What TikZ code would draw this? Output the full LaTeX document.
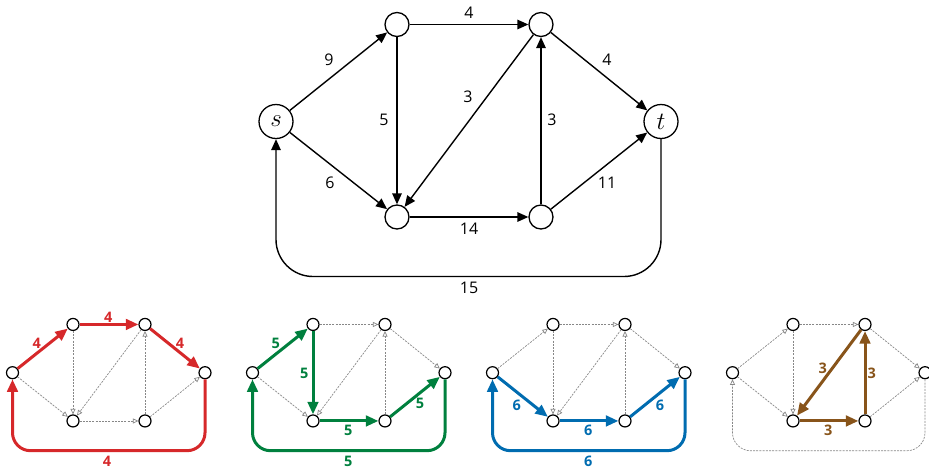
\documentclass[tikz,border=0pt]{standalone}
\usepackage{fontspec}
\setsansfont{Open Sans}
\usetikzlibrary{arrows.meta,calc}
\definecolor{fred}{RGB}{214,40,42}
\definecolor{fgreen}{RGB}{0,128,62}
\definecolor{fblue}{RGB}{0,108,176}
\definecolor{fbrown}{RGB}{136,84,26}
\definecolor{fgray}{RGB}{135,135,135}
\tikzset{
  bnode/.style={circle,draw,line width=1.3pt,minimum size=24pt,inner sep=0pt},
  stnode/.style={circle,draw,line width=1.3pt,minimum size=34pt,inner sep=0pt,font=\fontsize{24}{24}\selectfont},
  snd/.style={circle,draw,line width=1.2pt,minimum size=12pt,inner sep=0pt},
  edge/.style={line width=1.4pt,-{Triangle[length=11pt,width=9.5pt]}},
  lab/.style={font=\sffamily\fontsize{16}{16}\selectfont,inner sep=0pt},
  slab/.style={font=\sffamily\bfseries\fontsize{14.5}{14.5}\selectfont,inner sep=0pt},
  gedge/.style={draw=fgray,line width=0.7pt,dash pattern=on 2pt off 1.2pt,-{Triangle[open,length=5.5pt,width=5pt]}},
  fedge/.style={line width=3pt,-{Triangle[length=12.5pt,width=10.5pt]}},
}
\newcommand\gnodes[1]{%
  \node[snd] (#1s) at (0,0) {};
  \node[snd] (#1A) at (121,-96.5) {};
  \node[snd] (#1B) at (265,-96.5) {};
  \node[snd] (#1C) at (121,96.5) {};
  \node[snd] (#1D) at (265,96.5) {};
  \node[snd] (#1t) at (385,0) {};
  \coordinate (#1bot) at (0,156);
}
\begin{document}
\begin{tikzpicture}[x=1pt,y=-1pt]
\useasboundingbox (0,0) rectangle (929,472);
% ---------- main graph ----------
\begin{scope}[shift={(276,121.5)}]
  \node[stnode] (s) at (0,0) {$s$};
  \node[bnode] (A) at (121,-97) {};
  \node[bnode] (B) at (265,-97) {};
  \node[bnode] (C) at (121,95.5) {};
  \node[bnode] (D) at (265,95.5) {};
  \node[stnode] (t) at (385,0) {$t$};
  \coordinate (bot) at (0,155);
  \draw[edge] (s) -- (A);
  \draw[edge] (s) -- (C);
  \draw[edge] (A) -- (B);
  \draw[edge] (A) -- (C);
  \draw[edge] (B) -- (C);
  \draw[edge] (D) -- (B);
  \draw[edge] (C) -- (D);
  \draw[edge] (B) -- (t);
  \draw[edge] (D) -- (t);
  \draw[edge,rounded corners=37pt] (t.south) -- (t |- bot) -- (s |- bot) -- (s.south);
  \node[lab] (l1) at (53,-61.5) {9};
  \node[lab] (l2) at (54,61.5) {6};
  \node[lab] (l3) at (108,-1.5) {5};
  \node[lab] (l4) at (193,-108.5) {4};
  \node[lab] (l5) at (192,-24.5) {3};
  \node[lab] (l6) at (276,-1.5) {3};
  \node[lab] (l7) at (331,-61.5) {4};
  \node[lab] (l8) at (331,61.5) {11};
  \node[lab] (l9) at (193,107.5) {14};
  \node[lab] (l10) at (193,166.5) {15};
\end{scope}
% ---------- graph 1 (red) ----------
\begin{scope}[shift={(12.5,372.7)},scale=0.5]
  \gnodes{a}
  \draw[gedge] (as) -- (aC);
  \draw[gedge] (aA) -- (aC);
  \draw[gedge] (aB) -- (aC);
  \draw[gedge] (aD) -- (aB);
  \draw[gedge] (aC) -- (aD);
  \draw[gedge] (aD) -- (at);
  \draw[fedge,fred] (as) -- (aA);
  \draw[fedge,fred] (aA) -- (aB);
  \draw[fedge,fred] (aB) -- (at);
  \draw[fedge,fred,rounded corners=18pt] (at.south) -- (at |- abot) -- (as |- abot) -- (as.south);
  \node[slab,fred] (a1) at (48.4,-58.8) {4};
  \node[slab,fred] (a2) at (191.6,-110.8) {4};
  \node[slab,fred] (a3) at (335,-58.8) {4};
  \node[slab,fred] (a4) at (189,178) {4};
\end{scope}
% ---------- graph 2 (green) ----------
\begin{scope}[shift={(252.5,372.7)},scale=0.5]
  \gnodes{b}
  \draw[gedge] (bs) -- (bC);
  \draw[gedge] (bA) -- (bB);
  \draw[gedge] (bB) -- (bC);
  \draw[gedge] (bD) -- (bB);
  \draw[gedge] (bB) -- (bt);
  \draw[fedge,fgreen] (bs) -- (bA);
  \draw[fedge,fgreen] (bA) -- (bC);
  \draw[fedge,fgreen] (bC) -- (bD);
  \draw[fedge,fgreen] (bD) -- (bt);
  \draw[fedge,fgreen,rounded corners=18pt] (bt.south) -- (bt |- bbot) -- (bs |- bbot) -- (bs.south);
  \node[slab,fgreen] (b1) at (46.4,-58.8) {5};
  \node[slab,fgreen] (b2) at (103.6,1.2) {5};
  \node[slab,fgreen] (b3) at (191.6,114.6) {5};
  \node[slab,fgreen] (b4) at (335,61.2) {5};
  \node[slab,fgreen] (b5) at (191.6,178) {5};
\end{scope}
% ---------- graph 3 (blue) ----------
\begin{scope}[shift={(492.5,372.7)},scale=0.5]
  \gnodes{c}
  \draw[gedge] (cs) -- (cA);
  \draw[gedge] (cA) -- (cB);
  \draw[gedge] (cA) -- (cC);
  \draw[gedge] (cB) -- (cC);
  \draw[gedge] (cD) -- (cB);
  \draw[gedge] (cB) -- (ct);
  \draw[fedge,fblue] (cs) -- (cC);
  \draw[fedge,fblue] (cC) -- (cD);
  \draw[fedge,fblue] (cD) -- (ct);
  \draw[fedge,fblue,rounded corners=18pt] (ct.south) -- (ct |- cbot) -- (cs |- cbot) -- (cs.south);
  \node[slab,fblue] (c1) at (48.4,64.6) {6};
  \node[slab,fblue] (c2) at (191.6,116) {6};
  \node[slab,fblue] (c3) at (335,64.6) {6};
  \node[slab,fblue] (c4) at (191.6,178) {6};
\end{scope}
% ---------- graph 4 (brown) ----------
\begin{scope}[shift={(732.5,372.7)},scale=0.5]
  \gnodes{d}
  \draw[gedge] (ds) -- (dA);
  \draw[gedge] (ds) -- (dC);
  \draw[gedge] (dA) -- (dB);
  \draw[gedge] (dA) -- (dC);
  \draw[gedge] (dB) -- (dt);
  \draw[gedge] (dD) -- (dt);
  \draw[gedge,rounded corners=18pt] (dt.south) -- (dt |- dbot) -- (ds |- dbot) -- (ds.south);
  \draw[fedge,fbrown] (dB) -- (dC);
  \draw[fedge,fbrown] (dC) -- (dD);
  \draw[fedge,fbrown] (dD) -- (dB);
  \node[slab,fbrown] (d1) at (180.4,-8.8) {3};
  \node[slab,fbrown] (d2) at (191.6,116) {3};
  \node[slab,fbrown] (d3) at (278.4,1.2) {3};
\end{scope}
\end{tikzpicture}
\end{document}
